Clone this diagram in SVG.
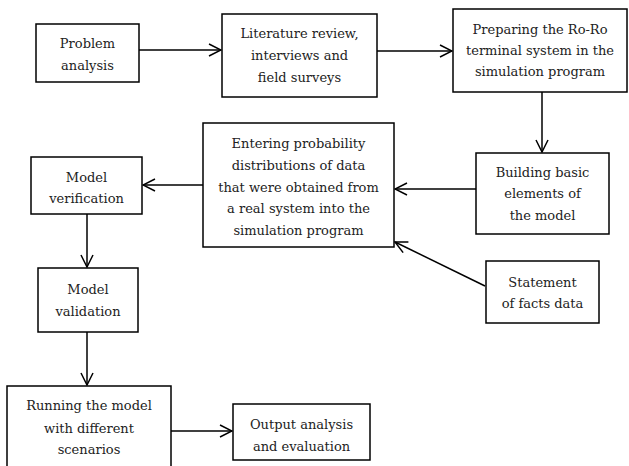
<svg xmlns="http://www.w3.org/2000/svg" width="629" height="466" viewBox="0 0 629 466">
<style>
.box{fill:#fff;stroke:#000;stroke-width:1.5}
.t{font-family:'DejaVu Serif',serif;font-size:13px;fill:#222;text-anchor:middle}
.c{fill:none;stroke:#000;stroke-width:1.5}
</style>
<defs>
<marker id="ah" viewBox="0 0 14 14" refX="13" refY="7" markerWidth="14" markerHeight="14" markerUnits="userSpaceOnUse" orient="auto">
<path d="M1,1 L13,7 L1,13" fill="none" stroke="#000" stroke-width="1.5"/>
</marker>
</defs>
<rect width="629" height="466" fill="#fff"/>
<g id="connectors">
<line class="c" x1="139" y1="50" x2="221" y2="50" marker-end="url(#ah)"/>
<line class="c" x1="377" y1="51" x2="452" y2="51" marker-end="url(#ah)"/>
<line class="c" x1="542" y1="92" x2="542" y2="152" marker-end="url(#ah)"/>
<line class="c" x1="476" y1="189" x2="395" y2="189" marker-end="url(#ah)"/>
<line class="c" x1="485" y1="286" x2="395" y2="242" marker-end="url(#ah)"/>
<line class="c" x1="203" y1="185" x2="143" y2="185" marker-end="url(#ah)"/>
<line class="c" x1="87" y1="214" x2="87" y2="267" marker-end="url(#ah)"/>
<line class="c" x1="87" y1="332" x2="87" y2="385" marker-end="url(#ah)"/>
<line class="c" x1="171" y1="431" x2="232" y2="431" marker-end="url(#ah)"/>
</g>
<g id="problem">
<rect class="box" x="36" y="24" width="103" height="58"/>
<text class="t" x="87.5" y="48">Problem</text>
<text class="t" x="87.5" y="70">analysis</text>
</g>
<g id="literature">
<rect class="box" x="222" y="14" width="155" height="83"/>
<text class="t" x="299.5" y="38">Literature review,</text>
<text class="t" x="299.5" y="60">interviews and</text>
<text class="t" x="299.5" y="82">field surveys</text>
</g>
<g id="preparing">
<rect class="box" x="453" y="9" width="174" height="83"/>
<text class="t" x="540" y="34">Preparing the Ro-Ro</text>
<text class="t" x="540" y="55">terminal system in the</text>
<text class="t" x="540" y="76">simulation program</text>
</g>
<g id="building">
<rect class="box" x="476" y="153" width="133" height="81"/>
<text class="t" x="542.5" y="177">Building basic</text>
<text class="t" x="542.5" y="198">elements of</text>
<text class="t" x="542.5" y="220">the model</text>
</g>
<g id="entering">
<rect class="box" x="203" y="123" width="191" height="124"/>
<text class="t" x="298.5" y="148">Entering probability</text>
<text class="t" x="298.5" y="170">distributions of data</text>
<text class="t" x="298.5" y="192">that were obtained from</text>
<text class="t" x="298.5" y="213">a real system into the</text>
<text class="t" x="298.5" y="235">simulation program</text>
</g>
<g id="statement">
<rect class="box" x="486" y="261" width="113" height="62"/>
<text class="t" x="542.5" y="287">Statement</text>
<text class="t" x="542.5" y="308">of facts data</text>
</g>
<g id="verification">
<rect class="box" x="31" y="157" width="111" height="57"/>
<text class="t" x="86.5" y="182">Model</text>
<text class="t" x="86.5" y="203">verification</text>
</g>
<g id="validation">
<rect class="box" x="38" y="268" width="100" height="64"/>
<text class="t" x="88" y="294">Model</text>
<text class="t" x="88" y="316">validation</text>
</g>
<g id="running">
<rect class="box" x="7" y="386" width="164" height="84"/>
<text class="t" x="89" y="410">Running the model</text>
<text class="t" x="89" y="433">with different</text>
<text class="t" x="89" y="454">scenarios</text>
</g>
<g id="output">
<rect class="box" x="233" y="404" width="137" height="56"/>
<text class="t" x="301.5" y="429">Output analysis</text>
<text class="t" x="301.5" y="451">and evaluation</text>
</g>
</svg>
